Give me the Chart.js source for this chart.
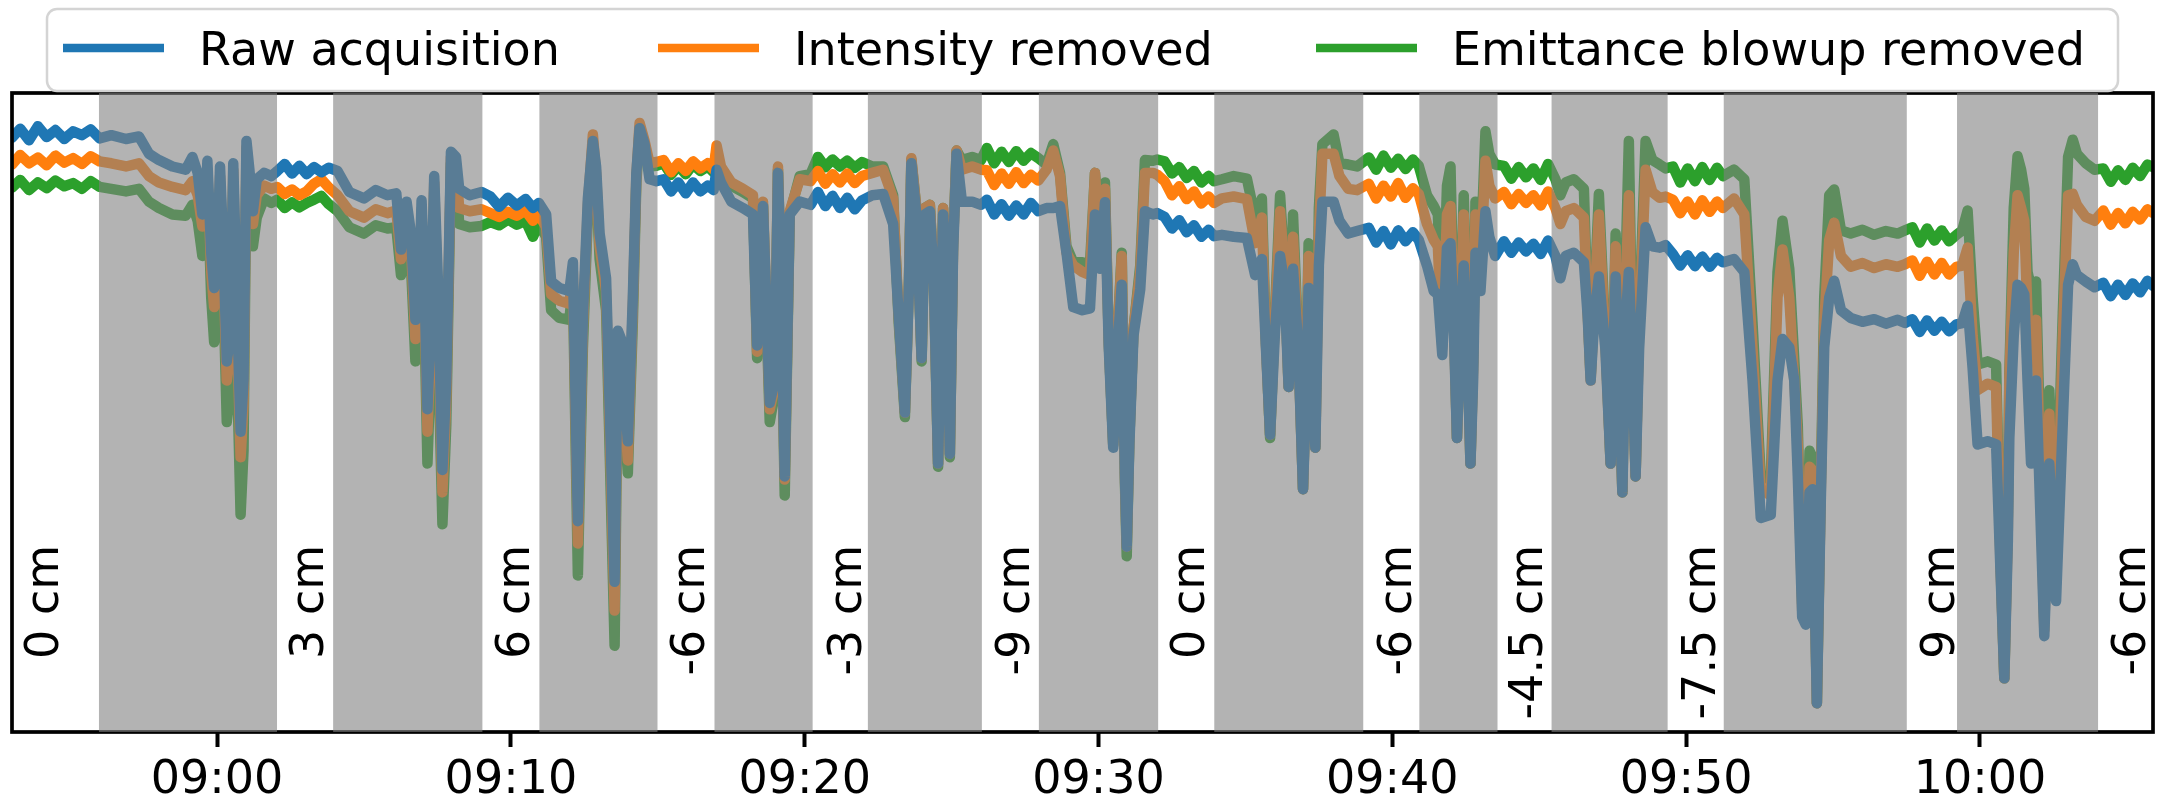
<!DOCTYPE html>
<html>
<head>
<meta charset="utf-8">
<script src="https://cdn.jsdelivr.net/npm/chart.js@4.4.1/dist/chart.umd.min.js"></script>
<style>
  html, body { margin: 0; padding: 0; background: #ffffff; }
  #wrap { width: 2158px; height: 804px; }
</style>
</head>
<body>
<div id="wrap"><canvas id="signalChart" width="2158" height="804"></canvas></div>
<script>
// ---------------------------------------------------------
// Data (x = minutes after 09:00,
// y = relative signal, 0 = bottom of the axes, 100 = top)
// ---------------------------------------------------------

const SERIES_NAMES = ['Raw acquisition', 'Intensity removed', 'Emittance blowup removed'];
const SERIES_COLORS = ['#1f77b4', '#ff7f0e', '#2ca02c'];

const TICK_VALUES = [0, 10, 20, 30, 40, 50, 60];
const TICK_LABELS = ['09:00', '09:10', '09:20', '09:30', '09:40', '09:50', '10:00'];

// shaded (moving) periods
const BAND_STARTS = [-4.02, 3.95, 10.97, 16.93, 22.15, 27.97, 33.94, 40.92, 45.42, 51.28, 59.22];
const BAND_ENDS   = [ 2.04, 9.03, 14.99, 20.27, 26.03, 32.03, 39.01, 43.58, 49.37, 57.51, 64.02];

// position labels in the white (stable) periods
const POSITION_LABELS = ['0 cm', '3 cm', '6 cm', '-6 cm', '-3 cm', '-9 cm', '0 cm', '-6 cm', '-4.5 cm', '-7.5 cm', '9 cm', '-6 cm'];
const POSITION_TIMES  = [-6.0, 3.03, 10.05, 16.01, 21.33, 27.05, 33.02, 40.07, 44.5, 50.39, 58.54, 65.04];

const TIMES = [
  -6.98, -6.7, -6.4, -6.1, -5.8, -5.5, -5.2, -4.9, -4.6, -4.3, -4.0,
  -3.6, -3.1, -2.66, -2.32, -1.98, -1.52, -1.07, -0.84, -0.66, -0.5, -0.39, -0.33, -0.2, -0.1, 0, 0.1, 0.22, 0.33, 0.45, 0.55, 0.66, 0.8, 0.9, 1.0, 1.1, 1.22, 1.35, 1.6, 1.85, 2.05,
  2.3, 2.55, 2.8, 3.05, 3.3, 3.55, 3.8,
  4.1, 4.5, 5.0, 5.4, 5.8, 6.1, 6.26, 6.45, 6.6, 6.75, 6.88, 6.96, 7.05, 7.16, 7.28, 7.39, 7.52, 7.67, 7.8, 7.96, 8.13, 8.24, 8.6, 9.0,
  9.3, 9.6, 9.9, 10.2, 10.5, 10.75, 10.95,
  11.2, 11.37, 11.65, 11.99, 12.11, 12.28, 12.45, 12.62, 12.79, 12.9, 13.02, 13.24, 13.53, 13.64, 13.75, 13.98, 14.15, 14.27, 14.38, 14.55, 14.72, 14.95,
  15.2, 15.45, 15.7, 15.95, 16.2, 16.45, 16.7, 16.9,
  17.0, 17.15, 17.5, 17.9, 18.24, 18.38, 18.58, 18.81, 18.98, 19.09, 19.2, 19.32, 19.49, 19.83, 20.2,
  20.45, 20.7, 20.95, 21.2, 21.45, 21.7, 21.95,
  22.3, 22.67, 23.01, 23.2, 23.41, 23.55, 23.63, 23.8, 23.98, 24.09, 24.26, 24.4, 24.54, 24.71, 24.85, 24.94, 25.05, 25.17, 25.35, 25.7, 26.0,
  26.2, 26.45, 26.7, 26.95, 27.2, 27.45, 27.7, 27.95,
  28.23, 28.46, 28.69, 28.91, 29.14, 29.45, 29.71, 29.88, 30.05, 30.22, 30.35, 30.5, 30.65, 30.79, 30.9, 30.96, 31.05, 31.19, 31.42, 31.58, 31.85, 32.0,
  32.25, 32.5, 32.75, 33.0, 33.25, 33.5, 33.75, 33.93,
  34.2, 34.6, 35.05, 35.33, 35.56, 35.7, 35.84, 36.0, 36.18, 36.33, 36.47, 36.62, 36.8, 36.96, 37.08, 37.15, 37.28, 37.38, 37.5, 37.62, 38.0, 38.2, 38.5, 38.8,
  39.2, 39.45, 39.7, 39.95, 40.2, 40.45, 40.7, 40.9,
  41.18, 41.41, 41.55, 41.7, 41.86, 41.98, 42.1, 42.2, 42.32, 42.43, 42.55, 42.66, 42.75, 42.83, 43.0, 43.17, 43.3, 43.5,
  43.8, 44.05, 44.3, 44.55, 44.8, 45.05, 45.3,
  45.55, 45.72, 45.9, 46.18, 46.52, 46.65, 46.75, 46.88, 47.03, 47.25, 47.43, 47.53, 47.6, 47.72, 47.83, 47.95, 48.05, 48.17, 48.28, 48.4, 48.62, 48.85, 49.1, 49.3,
  49.55, 49.8, 50.05, 50.3, 50.55, 50.8, 51.05, 51.25,
  51.63, 51.98, 52.26, 52.54, 52.88, 53.11, 53.28, 53.51, 53.68, 53.8, 53.95, 54.07, 54.2, 54.3, 54.45, 54.58, 54.7, 54.87, 55.04, 55.27, 55.6, 56.0, 56.4, 56.8, 57.2, 57.45,
  57.7, 57.95, 58.2, 58.45, 58.7, 58.95, 59.2,
  59.4, 59.58, 59.75, 59.92, 60.26, 60.55, 60.7, 60.83, 60.95, 61.0, 61.15, 61.28, 61.4, 61.51, 61.62, 61.74, 61.91, 62.05, 62.19, 62.3, 62.36, 62.48, 62.59, 62.75, 62.82, 63.0, 63.16, 63.3, 63.6, 63.9,
  64.2, 64.45, 64.7, 64.95, 65.2, 65.45, 65.7, 65.9
];

const RAW_ACQ = [
  93.0, 94.4, 92.6, 94.8, 93.1, 94.2, 92.8, 94.0, 93.4, 94.3, 92.9,
  93.4, 92.8, 93.2, 90.5, 89.5, 88.5, 88.0, 90.0, 87.5, 81.0, 82.0, 89.4, 75.0, 69.5, 72.0, 88.5, 75.0, 58.0, 62.0, 89.0, 70.0, 47.0, 55.0, 92.5, 88.0, 81.5, 86.5, 87.5, 87.0, 87.8,
  88.9, 87.4, 88.6, 87.3, 88.4, 87.6, 88.3,
  87.8, 84.5, 83.5, 84.8, 84.0, 84.3, 75.5, 83.0, 78.0, 64.5, 70.0, 83.2, 72.0, 50.5, 65.0, 87.0, 70.0, 41.0, 55.0, 90.8, 90.0, 85.0, 84.0, 84.5,
  83.8, 82.2, 83.6, 82.4, 83.4, 82.0, 82.8,
  81.0, 70.5, 69.5, 69.0, 73.5, 33.0, 65.0, 83.5, 92.5, 88.5, 78.0, 71.0, 23.5, 62.8, 61.5, 45.5, 68.0, 87.5, 94.5, 92.0, 86.5, 86.2,
  86.5, 84.6, 86.0, 84.3, 86.0, 84.6, 85.5, 84.8,
  88.0, 86.0, 83.0, 82.0, 81.0, 60.5, 82.3, 51.5, 55.0, 87.5, 70.0, 40.0, 81.0, 83.0, 82.5,
  84.5, 82.3, 83.9, 82.0, 83.6, 81.8, 83.2,
  84.0, 84.2, 79.5, 65.0, 50.0, 70.0, 89.0, 81.0, 58.5, 81.0, 81.5, 70.0, 42.0, 81.0, 70.0, 43.5, 75.0, 90.5, 83.0, 83.0, 82.5,
  83.3, 81.0, 82.6, 80.8, 82.4, 81.0, 82.8, 81.5,
  82.0, 82.0, 82.3, 75.0, 66.5, 66.0, 66.3, 81.0, 72.5, 82.9, 60.0, 44.5, 60.0, 70.0, 40.0, 29.0, 45.0, 62.0, 69.3, 81.5, 81.0, 81.2,
  80.6, 78.8, 80.1, 78.2, 79.3, 77.5, 78.6, 77.6,
  77.8, 77.5, 77.3, 71.5, 74.0, 60.0, 46.5, 62.0, 74.5, 70.0, 54.0, 72.5, 60.0, 38.0, 55.0, 69.5, 60.0, 44.5, 73.0, 83.0, 83.0, 80.0, 78.0, 78.4,
  78.9, 76.6, 78.4, 76.3, 78.5, 76.8, 78.2, 77.0,
  73.0, 69.0, 68.5, 59.0, 75.8, 76.5, 62.0, 46.0, 63.0, 73.0, 60.0, 42.0, 55.0, 75.0, 69.0, 81.5, 77.5, 74.5,
  76.8, 75.0, 76.6, 75.2, 76.4, 74.8, 76.9,
  74.5, 71.0, 74.5, 75.0, 73.5, 65.0, 55.0, 65.0, 71.3, 60.0, 42.0, 60.0, 71.3, 55.0, 37.5, 65.0, 72.0, 58.0, 40.0, 60.0, 79.0, 76.0, 75.8, 76.2,
  74.8, 73.0, 74.6, 72.9, 74.4, 72.8, 74.2, 73.5,
  74.0, 72.0, 55.0, 33.5, 34.0, 55.0, 61.5, 60.2, 55.0, 40.0, 18.0, 16.8, 37.5, 38.0, 4.5, 35.5, 60.2, 68.0, 70.6, 66.0, 64.8, 64.2, 64.6, 63.9, 64.5, 64.0,
  64.6, 62.6, 64.4, 62.8, 64.2, 62.7, 63.8,
  64.0, 66.7, 57.0, 45.0, 45.5, 45.0, 25.0, 8.4, 30.0, 46.0, 62.0, 70.0, 69.5, 68.5, 55.0, 42.0, 55.0, 35.0, 15.0, 30.0, 42.0, 30.0, 20.5, 40.0, 48.5, 70.0, 73.2, 71.5, 70.5, 69.6,
  70.3, 68.2, 70.0, 68.4, 70.2, 68.8, 70.6, 69.8
];

const INTENSITY_REMOVED = [
  88.8, 90.3, 89.0, 89.9, 88.7, 90.2, 89.1, 89.8, 88.9, 90.1, 89.3,
  89.0, 88.5, 89.0, 87.0, 86.0, 85.3, 84.8, 86.2, 84.0, 79.1, 80.0, 88.0, 72.0, 66.5, 69.0, 87.0, 72.0, 55.0, 59.0, 88.0, 66.0, 43.0, 51.0, 91.5, 86.0, 79.5, 84.0, 85.5, 85.0, 85.3,
  84.2, 84.9, 84.0, 84.6, 85.8, 86.5, 85.2,
  84.0, 81.5, 80.5, 81.8, 81.2, 81.6, 74.0, 81.0, 76.0, 61.5, 68.0, 81.8, 70.0, 47.0, 62.0, 86.0, 66.0, 37.5, 52.0, 90.0, 89.0, 82.0, 81.5, 81.8,
  81.2, 80.6, 81.4, 80.8, 81.6, 80.0, 81.0,
  79.0, 68.5, 67.5, 67.0, 72.0, 29.5, 63.0, 82.5, 93.5, 87.5, 76.0, 69.0, 19.0, 61.0, 59.5, 42.5, 66.5, 87.0, 95.3, 92.5, 89.0, 89.2,
  89.5, 87.6, 89.0, 87.8, 89.3, 88.2, 89.0, 88.0,
  91.8, 88.5, 86.0, 85.0, 84.0, 59.5, 83.0, 50.5, 54.0, 88.5, 69.0, 39.5, 81.5, 86.5, 86.2,
  87.8, 85.8, 87.3, 86.0, 87.4, 85.9, 87.0,
  87.5, 88.0, 83.5, 65.0, 50.0, 71.0, 89.8, 82.0, 58.5, 82.0, 82.5, 70.5, 42.0, 82.0, 70.0, 43.5, 76.0, 91.0, 88.0, 88.5, 88.0,
  87.9, 85.6, 87.4, 85.8, 87.6, 85.9, 87.2, 86.3,
  88.0, 91.0, 87.0, 75.0, 73.0, 72.0, 71.5, 87.5, 75.5, 85.0, 61.0, 45.0, 62.0, 74.5, 40.0, 29.0, 46.0, 63.0, 72.0, 87.5, 87.5, 87.2,
  86.2, 84.0, 85.4, 83.4, 84.6, 82.7, 83.8, 82.8,
  83.5, 83.8, 83.4, 76.5, 80.5, 60.5, 46.5, 64.0, 81.5, 72.0, 54.0, 77.5, 60.5, 38.0, 57.0, 74.5, 61.0, 44.5, 78.0, 90.5, 90.5, 87.0, 85.0, 84.8,
  85.8, 83.5, 85.5, 83.8, 85.9, 83.6, 85.1, 84.2,
  79.5, 77.0, 76.0, 60.0, 81.0, 82.3, 63.0, 46.0, 65.0, 81.0, 61.0, 42.0, 57.0, 81.0, 72.0, 89.4, 85.5, 83.5,
  84.5, 82.6, 84.2, 82.8, 84.0, 82.4, 84.6,
  82.0, 79.5, 81.5, 82.0, 80.5, 65.5, 55.0, 67.0, 81.0, 61.0, 42.0, 62.0, 76.0, 55.0, 37.5, 70.0, 84.0, 59.0, 40.0, 63.0, 88.0, 84.5, 83.6, 83.8,
  83.3, 81.2, 83.0, 81.0, 83.2, 81.4, 83.0, 82.0,
  83.5, 81.0, 60.0, 38.0, 37.0, 68.0, 75.5, 68.0, 55.0, 45.0, 19.0, 17.5, 41.5, 41.0, 4.5, 37.0, 64.0, 77.0, 79.7, 74.5, 72.8, 73.4, 72.6, 73.2, 72.8, 73.2,
  73.8, 71.4, 73.6, 71.6, 73.4, 71.6, 72.8,
  73.0, 75.8, 62.0, 53.5, 54.5, 54.0, 26.0, 8.4, 32.0, 55.0, 75.0, 84.0, 82.0, 80.0, 65.0, 58.0, 64.5, 40.0, 16.0, 35.0, 49.8, 36.0, 24.0, 50.0, 61.5, 84.0, 84.2, 82.5, 80.6, 80.0,
  81.6, 79.4, 81.2, 79.6, 81.4, 80.2, 81.8, 81.2
];

const EMITTANCE_REMOVED = [
  85.2, 86.4, 84.8, 86.0, 85.1, 86.3, 85.4, 85.9, 85.0, 86.2, 85.3,
  85.0, 84.6, 85.0, 83.0, 82.0, 81.0, 80.8, 82.5, 80.0, 74.5, 76.0, 86.0, 68.0, 61.0, 64.0, 85.0, 68.0, 48.5, 54.0, 86.0, 60.0, 34.0, 44.0, 90.0, 84.0, 76.0, 80.5, 83.5, 82.8, 83.3,
  82.0, 82.9, 82.1, 82.8, 83.3, 83.9, 82.6,
  81.5, 79.0, 78.0, 79.3, 78.8, 79.0, 71.5, 78.5, 73.0, 58.0, 65.0, 80.0, 66.0, 42.0, 58.0, 84.5, 60.0, 32.5, 48.0, 89.0, 88.0, 79.5, 79.0, 79.2,
  79.8, 79.3, 80.2, 79.4, 80.0, 77.5, 79.6,
  77.5, 66.0, 64.8, 64.5, 70.0, 24.5, 60.0, 81.0, 92.0, 86.0, 74.0, 66.0, 13.5, 58.0, 57.0, 40.5, 64.0, 86.0, 94.0, 91.5, 88.5, 88.6,
  89.0, 87.2, 88.6, 87.3, 88.8, 87.8, 88.5, 87.6,
  91.0, 88.0, 85.5, 84.5, 83.5, 58.5, 82.5, 48.5, 53.0, 88.0, 68.0, 37.0, 81.0, 87.0, 87.3,
  90.0, 88.4, 89.6, 88.5, 89.4, 88.3, 89.2,
  88.5, 88.5, 84.0, 64.0, 49.3, 71.0, 89.5, 82.0, 58.0, 82.0, 82.5, 70.0, 41.5, 82.0, 69.0, 43.0, 76.5, 91.0, 89.5, 90.0, 89.5,
  91.4, 89.0, 90.8, 89.2, 90.9, 89.4, 90.6, 89.8,
  88.8, 92.0, 87.5, 76.0, 73.5, 73.5, 73.2, 87.5, 77.0, 86.0, 61.0, 45.0, 62.5, 75.0, 39.0, 27.5, 46.0, 63.0, 73.0, 89.5, 89.4, 89.6,
  89.3, 87.4, 88.4, 86.7, 87.8, 86.0, 87.0, 86.2,
  86.5, 87.0, 86.6, 80.5, 83.5, 61.0, 46.0, 65.0, 84.0, 73.0, 54.0, 81.0, 61.0, 38.0, 58.0, 76.5, 62.0, 44.5, 82.0, 92.0, 93.5, 89.0, 88.8, 88.5,
  89.9, 88.0, 90.2, 88.3, 89.7, 88.1, 89.6, 88.6,
  84.0, 82.3, 81.0, 61.0, 85.5, 88.5, 64.0, 46.0, 66.0, 84.0, 62.0, 42.0, 58.0, 83.0, 74.0, 94.0, 90.5, 88.8,
  88.6, 86.6, 88.4, 86.8, 88.2, 86.4, 88.9,
  86.5, 84.0, 86.0, 86.5, 85.0, 66.0, 55.5, 68.5, 84.2, 62.0, 42.0, 63.0, 78.0, 55.0, 37.5, 75.0, 92.5, 60.0, 40.0, 65.0, 92.5, 89.5, 88.8, 88.2,
  88.5, 86.0, 88.2, 86.2, 88.4, 86.4, 88.3, 87.0,
  88.0, 86.5, 64.0, 40.0, 39.5, 72.0, 80.0, 72.5, 58.3, 48.0, 20.0, 18.5, 44.0, 43.0, 4.5, 38.0, 68.0, 84.0, 84.9, 78.5, 78.0, 78.6, 77.8, 78.4, 78.0, 78.5,
  79.0, 76.6, 78.8, 76.9, 78.5, 76.8, 77.8,
  78.5, 81.6, 68.0, 57.5, 58.0, 57.5, 27.0, 8.4, 34.0, 56.0, 82.0, 90.1, 88.0, 85.0, 72.0, 69.5, 70.5, 45.0, 17.0, 40.0, 53.5, 40.0, 28.0, 55.0, 65.5, 90.0, 92.7, 90.5, 89.0, 88.0,
  88.2, 86.1, 87.9, 86.4, 88.3, 87.0, 88.8, 88.4
];

const SERIES_VALUES = [RAW_ACQ, INTENSITY_REMOVED, EMITTANCE_REMOVED];

// ---------------------------------------------------------
// Plugin: frame, shaded periods (drawn over the lines) and position labels
// ---------------------------------------------------------
const FONT_FAMILY = '"DejaVu Sans", "Liberation Sans", sans-serif';

const overlayPlugin = {
  id: 'overlay',
  afterDatasetsDraw(chart) {
    const ctx = chart.ctx;
    const area = chart.chartArea;
    const xScale = chart.scales.x;
    ctx.save();

    // axes frame
    ctx.strokeStyle = '#000000';
    ctx.lineWidth = 3.7;
    ctx.strokeRect(area.left, area.top, area.right - area.left, area.bottom - area.top);

    // gray bands, semi transparent so the lines show muted underneath
    ctx.fillStyle = 'rgba(128, 128, 128, 0.6)';
    for (let i = 0; i < BAND_STARTS.length; i++) {
      const x0 = Math.max(area.left, xScale.getPixelForValue(BAND_STARTS[i]));
      const x1 = Math.min(area.right, xScale.getPixelForValue(BAND_ENDS[i]));
      ctx.fillRect(x0, area.top, x1 - x0, area.bottom - area.top);
    }

    // rotated position labels, end of text aligned at one height
    ctx.fillStyle = '#000000';
    ctx.font = '46px ' + FONT_FAMILY;
    ctx.textAlign = 'right';
    ctx.textBaseline = 'alphabetic';
    POSITION_TIMES.forEach(function(t, i) {
      ctx.save();
      ctx.translate(xScale.getPixelForValue(t) + 17, 545);
      ctx.rotate(-Math.PI / 2);
      ctx.fillText(POSITION_LABELS[i], 0, 0);
      ctx.restore();
    });
    ctx.restore();
  }
};

// legend in a rounded box spanning the top (like matplotlib mode="expand")
const boxLegendPlugin = {
  id: 'boxLegend',
  afterDraw(chart) {
    const ctx = chart.ctx;
    const bx = 47, by = 9, bw = 2071, bh = 82, r = 10;
    ctx.save();
    ctx.beginPath();
    ctx.moveTo(bx + r, by);
    ctx.arcTo(bx + bw, by, bx + bw, by + bh, r);
    ctx.arcTo(bx + bw, by + bh, bx, by + bh, r);
    ctx.arcTo(bx, by + bh, bx, by, r);
    ctx.arcTo(bx, by, bx + bw, by, r);
    ctx.closePath();
    ctx.fillStyle = 'rgba(255, 255, 255, 0.8)';
    ctx.fill();
    ctx.strokeStyle = '#d4d4d4';
    ctx.lineWidth = 2.5;
    ctx.stroke();

    const itemX = [63, 658, 1316];
    ctx.font = '46px ' + FONT_FAMILY;
    ctx.textAlign = 'left';
    ctx.textBaseline = 'alphabetic';
    chart.data.datasets.forEach(function(ds, i) {
      ctx.strokeStyle = ds.borderColor;
      ctx.lineWidth = 8.5;
      ctx.lineCap = 'butt';
      ctx.beginPath();
      ctx.moveTo(itemX[i], 48);
      ctx.lineTo(itemX[i] + 101, 48);
      ctx.stroke();
      ctx.fillStyle = '#000000';
      ctx.fillText(ds.label, itemX[i] + 136, 65);
    });
    ctx.restore();
  }
};

// ---------------------------------------------------------
// Build the chart
// ---------------------------------------------------------
const datasets = SERIES_NAMES.map(function(name, s) {
  return {
    label: name,
    data: TIMES.map(function(t, i) { return { x: t, y: SERIES_VALUES[s][i] }; }),
    borderColor: SERIES_COLORS[s],
    backgroundColor: SERIES_COLORS[s],
    borderWidth: 10.5,
    borderJoinStyle: 'round',
    borderCapStyle: 'round',
    pointRadius: 0,
    tension: 0,
    fill: false
  };
});

const ctxEl = document.getElementById('signalChart');
new Chart(ctxEl, {
  type: 'line',
  data: { datasets: datasets },
  options: {
    responsive: false,
    animation: false,
    devicePixelRatio: 1,
    layout: { padding: { left: 12, right: 5, top: 93, bottom: 0 } },
    plugins: {
      legend: { display: false },
      tooltip: { enabled: false }
    },
    scales: {
      x: {
        type: 'linear',
        min: -6.98,
        max: 65.89,
        afterBuildTicks: function(scale) {
          scale.ticks = TICK_VALUES.map(function(v) { return { value: v }; });
        },
        afterFit: function(scale) { scale.height = 72; },
        ticks: {
          autoSkip: false,
          maxRotation: 0,
          padding: 6,
          color: '#000000',
          font: { family: FONT_FAMILY, size: 46 },
          callback: function(value) {
            const idx = TICK_VALUES.indexOf(value);
            return idx >= 0 ? TICK_LABELS[idx] : '';
          }
        },
        grid: {
          drawOnChartArea: false,
          drawTicks: true,
          tickLength: 15,
          tickWidth: 4,
          tickColor: '#000000'
        },
        border: { display: false }
      },
      y: {
        min: 0,
        max: 100,
        display: false
      }
    }
  },
  plugins: [overlayPlugin, boxLegendPlugin]
});
</script>
</body>
</html>
